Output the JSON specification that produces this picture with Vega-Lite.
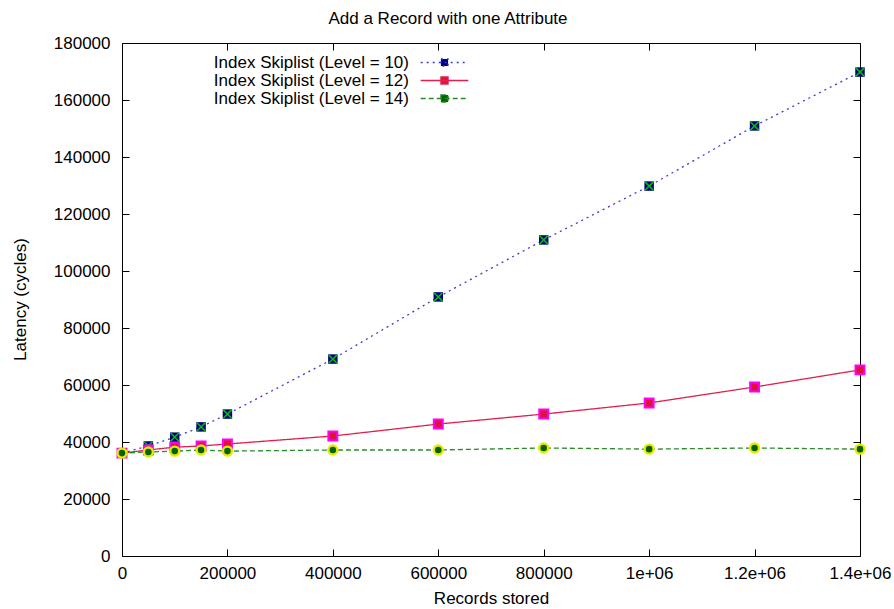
{
  "$schema": "https://vega.github.io/schema/vega-lite/v6.json",
  "width": 738,
  "height": 513,
  "autosize": {"type": "none"},
  "padding": {"left": 122, "top": 43, "right": 34, "bottom": 53},
  "background": "white",
  "config": {
    "font": "Liberation Sans",
    "view": {"stroke": "black", "strokeWidth": 1},
    "axis": {"grid": false, "domain": false, "tickColor": "black", "tickSize": -7, "tickWidth": 1, "labelFont": "Liberation Sans", "labelFontSize": 17, "labelColor": "black", "titleFont": "Liberation Sans", "titleFontSize": 17, "titleFontWeight": "normal", "titleColor": "black"}
  },
  "title": {"text": "Add a Record with one Attribute", "font": "Liberation Sans", "fontSize": 17, "fontWeight": "normal", "color": "black", "anchor": "middle", "dx": -43, "offset": -11, "baseline": "bottom"},
  "data": {"values": [
    {"series": "Index Skiplist (Level = 10)", "x": 0, "y": 36100},
    {"series": "Index Skiplist (Level = 10)", "x": 50000, "y": 38600},
    {"series": "Index Skiplist (Level = 10)", "x": 100000, "y": 41700},
    {"series": "Index Skiplist (Level = 10)", "x": 150000, "y": 45300},
    {"series": "Index Skiplist (Level = 10)", "x": 200000, "y": 49800},
    {"series": "Index Skiplist (Level = 10)", "x": 400000, "y": 69100},
    {"series": "Index Skiplist (Level = 10)", "x": 600000, "y": 90900},
    {"series": "Index Skiplist (Level = 10)", "x": 800000, "y": 110900},
    {"series": "Index Skiplist (Level = 10)", "x": 1000000, "y": 129800},
    {"series": "Index Skiplist (Level = 10)", "x": 1200000, "y": 150900},
    {"series": "Index Skiplist (Level = 10)", "x": 1400000, "y": 169800},
    {"series": "Index Skiplist (Level = 12)", "x": 0, "y": 36100},
    {"series": "Index Skiplist (Level = 12)", "x": 50000, "y": 37200},
    {"series": "Index Skiplist (Level = 12)", "x": 100000, "y": 38200},
    {"series": "Index Skiplist (Level = 12)", "x": 150000, "y": 38600},
    {"series": "Index Skiplist (Level = 12)", "x": 200000, "y": 39300},
    {"series": "Index Skiplist (Level = 12)", "x": 400000, "y": 42100},
    {"series": "Index Skiplist (Level = 12)", "x": 600000, "y": 46300},
    {"series": "Index Skiplist (Level = 12)", "x": 800000, "y": 49800},
    {"series": "Index Skiplist (Level = 12)", "x": 1000000, "y": 53700},
    {"series": "Index Skiplist (Level = 12)", "x": 1200000, "y": 59300},
    {"series": "Index Skiplist (Level = 12)", "x": 1400000, "y": 65300},
    {"series": "Index Skiplist (Level = 14)", "x": 0, "y": 36100},
    {"series": "Index Skiplist (Level = 14)", "x": 50000, "y": 36500},
    {"series": "Index Skiplist (Level = 14)", "x": 100000, "y": 36800},
    {"series": "Index Skiplist (Level = 14)", "x": 150000, "y": 37200},
    {"series": "Index Skiplist (Level = 14)", "x": 200000, "y": 36800},
    {"series": "Index Skiplist (Level = 14)", "x": 400000, "y": 37200},
    {"series": "Index Skiplist (Level = 14)", "x": 600000, "y": 37200},
    {"series": "Index Skiplist (Level = 14)", "x": 800000, "y": 37900},
    {"series": "Index Skiplist (Level = 14)", "x": 1000000, "y": 37500},
    {"series": "Index Skiplist (Level = 14)", "x": 1200000, "y": 37900},
    {"series": "Index Skiplist (Level = 14)", "x": 1400000, "y": 37500}
  ]},
  "resolve": {"axis": {"x": "independent", "y": "independent"}},
  "layer": [
    {
      "encoding": {
        "x": {"field": "x", "type": "quantitative", "scale": {"domain": [0, 1400000], "nice": false, "zero": false},
          "axis": {"orient": "bottom", "title": "Records stored", "values": [0, 200000, 400000, 600000, 800000, 1000000, 1200000, 1400000], "labelExpr": "datum.value >= 1000000 ? format(datum.value/1000000, '') + 'e+06' : format(datum.value, 'd')", "labelPadding": 16, "labelOverlap": false, "labelBound": false, "labelFlush": false, "titleY": 42, "titleBaseline": "middle"}},
        "y": {"field": "y", "type": "quantitative", "scale": {"domain": [0, 180000], "nice": false, "zero": false},
          "axis": {"orient": "left", "title": "Latency (cycles)", "values": [0, 20000, 40000, 60000, 80000, 100000, 120000, 140000, 160000, 180000], "format": "d", "labelPadding": 19, "labelOverlap": false, "labelBound": false, "labelFlush": false, "titleX": -102, "titleY": 256, "titleAngle": -90, "titleAlign": "center", "titleBaseline": "middle"}}
      },
      "layer": [
        {
          "mark": {"type": "line", "strokeWidth": 1.3},
          "encoding": {
            "color": {"field": "series", "type": "nominal",
              "scale": {"domain": ["Index Skiplist (Level = 10)", "Index Skiplist (Level = 12)", "Index Skiplist (Level = 14)"], "range": ["#3b3bd0", "#e0204a", "#2a8a2a"]},
              "legend": {"title": null, "orient": "none", "legendX": 313, "legendY": 10, "direction": "vertical",
                "symbolType": "M-2.8,0H2.8M-0.42,-0.42H0.42V0.42H-0.42Z", "symbolSize": 289, "symbolStrokeWidth": 1.3,
                "labelAlign": "right", "labelOffset": -45, "labelFontSize": 17, "labelFont": "Liberation Sans", "labelColor": "black", "labelLimit": 400, "rowPadding": 0,
                "encode": {"symbols": {"update": {"fill": {"signal": "datum.value == 'Index Skiplist (Level = 10)' ? '#00007f' : datum.value == 'Index Skiplist (Level = 12)' ? '#dc143c' : '#006400'"}}}}}},
            "strokeDash": {"field": "series", "type": "nominal",
              "scale": {"domain": ["Index Skiplist (Level = 10)", "Index Skiplist (Level = 12)", "Index Skiplist (Level = 14)"], "range": [[2, 4], [1, 0], [5, 3]]},
              "legend": {"title": null, "orient": "none", "legendX": 313, "legendY": 10, "direction": "vertical",
                "symbolType": "M-2.8,0H2.8M-0.42,-0.42H0.42V0.42H-0.42Z", "symbolSize": 289, "symbolStrokeWidth": 1.3,
                "labelAlign": "right", "labelOffset": -45, "labelFontSize": 17, "labelFont": "Liberation Sans", "labelColor": "black", "labelLimit": 400, "rowPadding": 0,
                "encode": {"symbols": {"update": {"fill": {"signal": "datum.value == 'Index Skiplist (Level = 10)' ? '#00007f' : datum.value == 'Index Skiplist (Level = 12)' ? '#dc143c' : '#006400'"}}}}}}
          }
        },
        {
          "transform": [{"filter": "datum.series == 'Index Skiplist (Level = 10)'"}],
          "mark": {"type": "point", "shape": "square", "size": 90, "filled": true, "color": "#00007f", "opacity": 1}
        },
        {
          "transform": [{"filter": "datum.series == 'Index Skiplist (Level = 10)'"}],
          "mark": {"type": "point", "shape": "M-1,-1L1,1M1,-1L-1,1", "size": 70, "filled": false, "stroke": "#00c000", "strokeWidth": 1.5, "opacity": 1}
        },
        {
          "transform": [{"filter": "datum.series == 'Index Skiplist (Level = 12)'"}],
          "mark": {"type": "point", "shape": "square", "size": 80, "filled": true, "fill": "#dc143c", "stroke": "#ff00ff", "strokeWidth": 2, "opacity": 1}
        },
        {
          "transform": [{"filter": "datum.series == 'Index Skiplist (Level = 14)'"}],
          "mark": {"type": "point", "shape": "circle", "size": 80, "filled": true, "fill": "#006400", "stroke": "#e8e800", "strokeWidth": 2.4, "opacity": 1}
        }
      ]
    },
    {
      "mark": {"type": "point", "opacity": 0},
      "encoding": {
        "x": {"field": "x", "type": "quantitative", "axis": {"orient": "top", "title": null, "labels": false, "values": [0, 200000, 400000, 600000, 800000, 1000000, 1200000, 1400000]}},
        "y": {"field": "y", "type": "quantitative", "axis": {"orient": "right", "title": null, "labels": false, "values": [0, 20000, 40000, 60000, 80000, 100000, 120000, 140000, 160000, 180000]}}
      }
    }
  ]
}
